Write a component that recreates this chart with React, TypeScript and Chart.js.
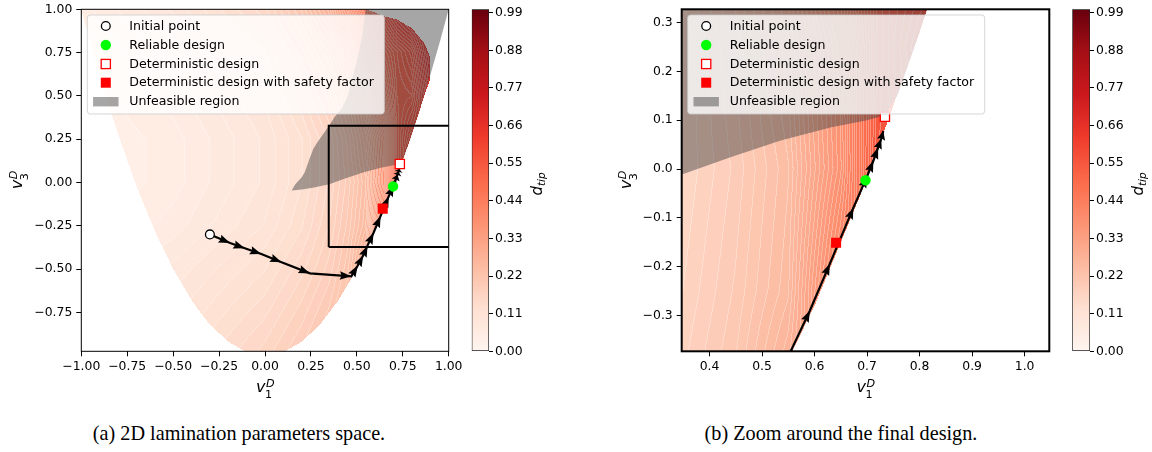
import React, { useEffect, useRef } from "react";
import { Chart, registerables } from "chart.js";
Chart.register(...registerables);

// ---------------- data ----------------
// d_tip field sampled on a coarse grid: rows = v3^D values, columns = v1^D values
const GRID_V1 = [-1, -0.5, 0, 0.2, 0.35, 0.45, 0.55, 0.65, 0.72, 0.8, 0.9, 1.0];
const GRID_V3 = [-1, -0.5, -0.25, 0, 0.25, 0.5, 0.75, 1];
const GRID_DTIP = [
  [0.07, 0.11, 0.16, 0.19, 0.22, 0.255, 0.30, 0.37, 0.43, 0.50, 0.60, 0.70],
  [0.04, 0.08, 0.12, 0.15, 0.18, 0.215, 0.29, 0.36, 0.42, 0.50, 0.58, 0.66],
  [0.035, 0.06, 0.10, 0.13, 0.165, 0.20, 0.25, 0.427, 0.48, 0.52, 0.58, 0.66],
  [0.03, 0.05, 0.09, 0.12, 0.155, 0.19, 0.24, 0.37, 0.55, 0.58, 0.65, 0.70],
  [0.03, 0.05, 0.09, 0.12, 0.155, 0.20, 0.26, 0.38, 0.54, 0.62, 0.66, 0.70],
  [0.035, 0.06, 0.10, 0.14, 0.18, 0.23, 0.30, 0.46, 0.55, 0.56, 0.68, 0.70],
  [0.04, 0.07, 0.12, 0.17, 0.22, 0.28, 0.42, 0.52, 0.56, 0.60, 0.72, 0.72],
  [0.05, 0.09, 0.15, 0.21, 0.28, 0.37, 0.50, 0.62, 0.68, 0.72, 0.72, 0.72],
];

// outline of the coloured (feasible lamination parameter) domain
const DOMAIN_V1 = [-1, -0.95, -0.9, -0.85, -0.8, -0.7, -0.6, -0.5, -0.4, -0.35, -0.3, -0.2, -0.1, 0, 0.1, 0.2, 0.3, 0.4, 0.5, 0.6, 0.7, 0.8, 0.87, 0.9, 0.9, 0.87, 0.8, 0.72, 0.65, 0.55, -1];
const DOMAIN_V3 = [1, 0.805, 0.62, 0.445, 0.28, -0.02, -0.28, -0.5, -0.68, -0.755, -0.82, -0.92, -0.98, -1, -0.98, -0.92, -0.82, -0.68, -0.5, -0.28, -0.02, 0.28, 0.51, 0.6, 0.72, 0.8, 0.89, 0.94, 0.96, 1.0, 1.0];

// outline of the unfeasible region
const UNFEAS_V1 = [0.145, 0.2, 0.26, 0.35, 0.44, 0.534, 0.63, 0.70, 0.735, 0.76, 0.79, 0.82, 0.866, 0.9, 0.95, 1.0, 1.0, 0.55, 0.53, 0.5, 0.45, 0.42, 0.38, 0.35, 0.317, 0.29, 0.263, 0.24, 0.217, 0.2, 0.165, 0.145];
const UNFEAS_V3 = [-0.046, -0.04, -0.03, -0.01, 0.024, 0.058, 0.085, 0.1, 0.11, 0.155, 0.248, 0.345, 0.5, 0.62, 0.805, 1.0, 1.02, 1.02, 0.85, 0.7, 0.5, 0.43, 0.38, 0.33, 0.28, 0.24, 0.195, 0.13, 0.06, 0.03, -0.01, -0.046];

// optimisation path (quiver steps)
const PATH_V1 = [-0.30, -0.19, -0.11, -0.02, 0.09, 0.245, 0.47, 0.505, 0.535, 0.558, 0.591, 0.629, 0.674, 0.70, 0.712, 0.721, 0.727, 0.731];
const PATH_V3 = [-0.30, -0.35, -0.38, -0.413, -0.461, -0.525, -0.542, -0.48, -0.42, -0.365, -0.29, -0.194, -0.079, -0.015, 0.017, 0.044, 0.062, 0.078];

const INITIAL_POINT = [-0.3, -0.3];
const RELIABLE_DESIGN = [0.697, -0.023];
const DETERMINISTIC_DESIGN = [0.734, 0.107];
const SAFETY_DESIGN = [0.641, -0.151];

// zoom window (panel b limits, rectangle in panel a)
const ZOOM_V1 = [0.347, 1.047];
const ZOOM_V3 = [-0.373, 0.327];

const LEGEND_LABELS = [
  "Initial point",
  "Reliable design",
  "Deterministic design",
  "Deterministic design with safety factor",
  "Unfeasible region",
];

const X_TICKS_A = [-1, -0.75, -0.5, -0.25, 0, 0.25, 0.5, 0.75, 1];
const Y_TICKS_A = [-0.75, -0.5, -0.25, 0, 0.25, 0.5, 0.75, 1];
const X_TICKS_B = [0.4, 0.5, 0.6, 0.7, 0.8, 0.9, 1.0];
const Y_TICKS_B = [-0.3, -0.2, -0.1, 0, 0.1, 0.2, 0.3];
const CB_TICKS = [0, 0.11, 0.22, 0.33, 0.44, 0.55, 0.66, 0.77, 0.88, 0.99];
const CB_RANGE = [0, 1.0];
const CONTOUR_STEP = 0.011;
const REDS = ["#fff5f0", "#fee0d2", "#fcbba1", "#fc9272", "#fb6a4a", "#ef3b2c", "#cb181d", "#a50f15", "#67000d"];
const CAPTIONS = ["(a) 2D lamination parameters space.", "(b) Zoom around the final design."];

// ---------------- styling ----------------
const FONT = '"DejaVu Sans"';
const TICK_FONT = { family: FONT, size: 12.4 };
const GRAY_FILL = "rgba(65,65,65,0.47)";

// ---------------- helpers ----------------
const fmt = (v: number, d: number) => (v < -1e-9 ? "\u2212" : "") + Math.abs(v).toFixed(d);
const pts = (xs: number[], ys: number[]) => xs.map((x, i) => ({ x, y: ys[i] }));
const hexToRgb = (h: string) => [parseInt(h.slice(1, 3), 16), parseInt(h.slice(3, 5), 16), parseInt(h.slice(5, 7), 16)];
const REDS_RGB = REDS.map(hexToRgb);
function redsAt(t: number) {
  t = Math.min(1, Math.max(0, t));
  const p = t * (REDS_RGB.length - 1);
  const i = Math.min(REDS_RGB.length - 2, Math.floor(p));
  const f = p - i;
  const a = REDS_RGB[i], b = REDS_RGB[i + 1];
  return [a[0] + (b[0] - a[0]) * f, a[1] + (b[1] - a[1]) * f, a[2] + (b[2] - a[2]) * f];
}
function segIndex(arr: number[], v: number) {
  for (let i = 0; i < arr.length - 2; i++) if (v <= arr[i + 1]) return i;
  return arr.length - 2;
}
function fieldValue(v1: number, v3: number) {
  const i = segIndex(GRID_V1, v1), j = segIndex(GRID_V3, v3);
  const tx = Math.min(1, Math.max(0, (v1 - GRID_V1[i]) / (GRID_V1[i + 1] - GRID_V1[i])));
  const ty = Math.min(1, Math.max(0, (v3 - GRID_V3[j]) / (GRID_V3[j + 1] - GRID_V3[j])));
  const a = GRID_DTIP[j][i], b = GRID_DTIP[j][i + 1], c = GRID_DTIP[j + 1][i], d = GRID_DTIP[j + 1][i + 1];
  return (a * (1 - tx) + b * tx) * (1 - ty) + (c * (1 - tx) + d * tx) * ty;
}
function inside(px: number, py: number, xs: number[], ys: number[]) {
  let c = false;
  for (let i = 0, j = xs.length - 1; i < xs.length; j = i++) {
    if ((ys[i] > py) !== (ys[j] > py) && px < ((xs[j] - xs[i]) * (py - ys[i])) / (ys[j] - ys[i]) + xs[i]) c = !c;
  }
  return c;
}

function drawMath(ctx: CanvasRenderingContext2D, x: number, y: number, base: string, sub: string, sup: string, size: number, rotate: boolean) {
  ctx.save();
  ctx.translate(x, y);
  if (rotate) ctx.rotate(-Math.PI / 2);
  const ss = size * 0.7;
  const fBase = `italic ${size}px ${FONT}`;
  const fSub = /^\d+$/.test(sub) ? `${ss}px ${FONT}` : `italic ${ss}px ${FONT}`;
  const fSup = `italic ${ss}px ${FONT}`;
  ctx.font = fBase;
  const bw = ctx.measureText(base).width;
  ctx.font = fSub;
  const sw = sub ? ctx.measureText(sub).width : 0;
  ctx.font = fSup;
  const pw = sup ? ctx.measureText(sup).width : 0;
  const total = bw + Math.max(sw, pw);
  const x0 = -total / 2;
  ctx.fillStyle = "#000";
  ctx.textAlign = "left";
  ctx.textBaseline = "alphabetic";
  ctx.font = fBase;
  ctx.fillText(base, x0, 0);
  if (sup) {
    ctx.font = fSup;
    ctx.fillText(sup, x0 + bw + 0.5, -size * 0.33);
  }
  if (sub) {
    ctx.font = fSub;
    ctx.fillText(sub, x0 + bw - (sup ? 0.5 : 0), sup ? size * 0.37 : size * 0.22);
  }
  ctx.restore();
}

// ---------------- plugins ----------------
const fieldPlugin = {
  id: "dtipField",
  beforeDatasetsDraw(chart: any) {
    const { ctx, chartArea: ca, scales } = chart;
    const xs = scales.x, ys = scales.y;
    const L = Math.round(ca.left), T = Math.round(ca.top);
    const W = Math.round(ca.right) - L, H = Math.round(ca.bottom) - T;
    const off = document.createElement("canvas");
    off.width = W;
    off.height = H;
    const octx = off.getContext("2d")!;
    const img = octx.createImageData(W, H);
    const lv = new Int32Array(W * H).fill(-1);
    const colV = new Float64Array(W);
    const rowV = new Float64Array(H);
    for (let i = 0; i < W; i++) colV[i] = xs.getValueForPixel(L + i + 0.5);
    for (let j = 0; j < H; j++) rowV[j] = ys.getValueForPixel(T + j + 0.5);
    for (let j = 0; j < H; j++) {
      for (let i = 0; i < W; i++) {
        const v1 = colV[i], v3 = rowV[j];
        if (!inside(v1, v3, DOMAIN_V1, DOMAIN_V3)) continue;
        lv[j * W + i] = Math.max(0, Math.floor(fieldValue(v1, v3) / CONTOUR_STEP));
      }
    }
    const span = CB_RANGE[1] - CB_RANGE[0];
    for (let j = 0; j < H; j++) {
      for (let i = 0; i < W; i++) {
        const k = j * W + i;
        const l = lv[k];
        if (l < 0) continue;
        const mid = (l + 0.5) * CONTOUR_STEP;
        let [r, g, b] = redsAt((mid - CB_RANGE[0]) / span);
        const seam =
          (i + 1 < W && lv[k + 1] >= 0 && lv[k + 1] !== l) || (j + 1 < H && lv[k + W] >= 0 && lv[k + W] !== l);
        if (seam) {
          const s = 0.28;
          r = r + (255 - r) * s;
          g = g + (255 - g) * s;
          b = b + (255 - b) * s;
        }
        img.data[k * 4] = r;
        img.data[k * 4 + 1] = g;
        img.data[k * 4 + 2] = b;
        img.data[k * 4 + 3] = 255;
      }
    }
    octx.putImageData(img, 0, 0);
    ctx.drawImage(off, L, T);
  },
};

const arrowPlugin = {
  id: "quiverHeads",
  afterDatasetDraw(chart: any, args: any) {
    const ds = chart.data.datasets[args.index];
    if (ds.label !== "path") return;
    const { ctx, chartArea: ca } = chart;
    const p = args.meta.data;
    ctx.save();
    ctx.beginPath();
    ctx.rect(ca.left, ca.top, ca.right - ca.left, ca.bottom - ca.top);
    ctx.clip();
    ctx.fillStyle = "#000";
    for (let i = 1; i < p.length; i++) {
      const dx = p[i].x - p[i - 1].x, dy = p[i].y - p[i - 1].y;
      const len = Math.hypot(dx, dy) || 1;
      const ux = dx / len, uy = dy / len;
      const nx = -uy, ny = ux;
      const hl = Math.min(11.5, len * 1.1), hw = 4.2, notch = hl * 0.85;
      ctx.beginPath();
      ctx.moveTo(p[i].x, p[i].y);
      ctx.lineTo(p[i].x - ux * hl + nx * hw, p[i].y - uy * hl + ny * hw);
      ctx.lineTo(p[i].x - ux * notch, p[i].y - uy * notch);
      ctx.lineTo(p[i].x - ux * hl - nx * hw, p[i].y - uy * hl - ny * hw);
      ctx.closePath();
      ctx.fill();
    }
    ctx.restore();
  },
};

function framePlugin(width: number) {
  return {
    id: "frame",
    afterDatasetsDraw(chart: any) {
      const { ctx, chartArea: ca } = chart;
      ctx.save();
      ctx.strokeStyle = "#000";
      ctx.lineWidth = width;
      ctx.strokeRect(ca.left, ca.top, ca.right - ca.left, ca.bottom - ca.top);
      ctx.restore();
    },
  };
}

const legendPlugin = {
  id: "boxLegend",
  afterDatasetsDraw(chart: any) {
    const { ctx, chartArea: ca } = chart;
    const bx = ca.left + 6, by = ca.top + 5.7, bw = 297, bh = 99;
    ctx.save();
    ctx.beginPath();
    (ctx as any).roundRect(bx, by, bw, bh, 3);
    ctx.fillStyle = "rgba(255,255,255,0.8)";
    ctx.fill();
    ctx.strokeStyle = "rgba(204,204,204,0.8)";
    ctx.lineWidth = 1;
    ctx.stroke();
    const mx = ca.left + 24.5, tx = ca.left + 48;
    const rows = [16.7, 35.7, 54.7, 73.4, 92.4].map((d) => ca.top + d);
    // initial point
    ctx.beginPath();
    ctx.arc(mx, rows[0], 4.4, 0, Math.PI * 2);
    ctx.fillStyle = "#fff";
    ctx.fill();
    ctx.strokeStyle = "#000";
    ctx.lineWidth = 1.3;
    ctx.stroke();
    // reliable
    ctx.beginPath();
    ctx.arc(mx, rows[1], 5.2, 0, Math.PI * 2);
    ctx.fillStyle = "#00ff00";
    ctx.fill();
    // deterministic
    ctx.fillStyle = "#fff";
    ctx.fillRect(mx - 4.6, rows[2] - 4.6, 9.2, 9.2);
    ctx.strokeStyle = "#ff0000";
    ctx.lineWidth = 1.3;
    ctx.strokeRect(mx - 4.6, rows[2] - 4.6, 9.2, 9.2);
    // safety
    ctx.fillStyle = "#ff0000";
    ctx.fillRect(mx - 5, rows[3] - 5, 10, 10);
    // unfeasible patch
    ctx.fillStyle = GRAY_FILL;
    ctx.fillRect(mx - 12.7, rows[4] - 4.7, 25.4, 9.4);
    ctx.fillStyle = "#000";
    ctx.font = `12.6px ${FONT}`;
    ctx.textAlign = "left";
    ctx.textBaseline = "middle";
    LEGEND_LABELS.forEach((t, i) => ctx.fillText(t, tx, rows[i] + 0.5));
    ctx.restore();
  },
};

function axisLabelPlugin(yOffset: number) {
  return {
    id: "axisLabels",
    afterDraw(chart: any) {
      const { ctx, chartArea: ca } = chart;
      const cx = (ca.left + ca.right) / 2, cy = (ca.top + ca.bottom) / 2;
      drawMath(ctx, cx, ca.bottom + 41, "v", "1", "D", 16, false);
      drawMath(ctx, ca.left - yOffset, cy, "v", "3", "D", 16, true);
    },
  };
}

const cbLabelPlugin = {
  id: "cbLabel",
  afterDraw(chart: any) {
    const { ctx, chartArea: ca } = chart;
    drawMath(ctx, ca.right + 53, 184, "d", "tip", "", 15, true);
  },
};

// ---------------- chart configs ----------------
type PanelOpts = {
  xr: number[];
  yr: number[];
  xTicks: number[];
  yTicks: number[];
  xDec: number;
  yDec: number;
  yAxisW: number;
  padRight: number;
  frameW: number;
  zoomBox: boolean;
  yLabelOffset: number;
};

function panelConfig(o: PanelOpts): any {
  const datasets: any[] = [
    {
      type: "line",
      label: "unfeasible",
      data: pts(UNFEAS_V1, UNFEAS_V3),
      fill: "shape",
      backgroundColor: GRAY_FILL,
      borderColor: "rgba(0,0,0,0)",
      borderWidth: 0,
      pointRadius: 0,
      tension: 0,
      order: 4,
    },
  ];
  if (o.zoomBox) {
    datasets.push({
      type: "line",
      label: "zoom",
      data: pts(
        [ZOOM_V1[0], ZOOM_V1[1], ZOOM_V1[1], ZOOM_V1[0], ZOOM_V1[0]],
        [ZOOM_V3[0], ZOOM_V3[0], ZOOM_V3[1], ZOOM_V3[1], ZOOM_V3[0]]
      ),
      fill: false,
      borderColor: "#000",
      borderWidth: 2,
      borderJoinStyle: "miter",
      pointRadius: 0,
      tension: 0,
      order: 3,
    });
  }
  datasets.push({
    type: "line",
    label: "path",
    data: pts(PATH_V1, PATH_V3),
    fill: false,
    borderColor: "#000",
    borderWidth: 2.2,
    pointRadius: 0,
    tension: 0,
    order: 2,
  });
  const marker = (label: string, p: number[], style: string, r: number, bg: string, bc: string, bw: number) => ({
    type: "scatter",
    label,
    data: [{ x: p[0], y: p[1] }],
    pointStyle: style,
    pointRadius: r,
    pointBackgroundColor: bg,
    pointBorderColor: bc,
    pointBorderWidth: bw,
    order: 1,
  });
  datasets.push(marker(LEGEND_LABELS[0], INITIAL_POINT, "circle", 4.4, "#fff", "#000", 1.3));
  datasets.push(marker(LEGEND_LABELS[2], DETERMINISTIC_DESIGN, "rect", 6.5, "#fff", "#ff0000", 1.3));
  datasets.push(marker(LEGEND_LABELS[3], SAFETY_DESIGN, "rect", 7.1, "#ff0000", "#ff0000", 0));
  datasets.push(marker(LEGEND_LABELS[1], RELIABLE_DESIGN, "circle", 5.2, "#00ff00", "#00ff00", 0));

  return {
    type: "scatter",
    data: { datasets },
    options: {
      responsive: false,
      animation: false,
      devicePixelRatio: 1,
      events: [],
      layout: { padding: { left: 0, top: 9.3, right: o.padRight, bottom: 0 } },
      plugins: { legend: { display: false }, tooltip: { enabled: false } },
      scales: {
        x: {
          type: "linear",
          min: o.xr[0],
          max: o.xr[1],
          afterBuildTicks: (s: any) => {
            s.ticks = o.xTicks.map((v) => ({ value: v }));
          },
          afterFit: (s: any) => {
            s.height = 48.7;
            s.paddingLeft = 0;
            s.paddingRight = 0;
          },
          ticks: {
            callback: (v: number) => fmt(v, o.xDec),
            font: TICK_FONT,
            color: "#000",
            maxRotation: 0,
            minRotation: 0,
            autoSkip: false,
            padding: 3,
          },
          grid: { drawOnChartArea: false, drawTicks: true, tickLength: 5, tickColor: "#000", tickWidth: 1 },
          border: { display: false },
        },
        y: {
          type: "linear",
          min: o.yr[0],
          max: o.yr[1],
          afterBuildTicks: (s: any) => {
            s.ticks = o.yTicks.map((v) => ({ value: v }));
          },
          afterFit: (s: any) => {
            s.width = o.yAxisW;
            s.paddingTop = 0;
            s.paddingBottom = 0;
          },
          ticks: {
            callback: (v: number) => fmt(v, o.yDec),
            font: TICK_FONT,
            color: "#000",
            autoSkip: false,
            padding: 4,
          },
          grid: { drawOnChartArea: false, drawTicks: true, tickLength: 5, tickColor: "#000", tickWidth: 1 },
          border: { display: false },
        },
      },
    },
    plugins: [fieldPlugin, arrowPlugin, framePlugin(o.frameW), legendPlugin, axisLabelPlugin(o.yLabelOffset)],
  };
}

function colorbarConfig(padLeft: number, axisW: number): any {
  return {
    type: "bar",
    data: {
      labels: ["d_tip"],
      datasets: [
        {
          data: [[CB_RANGE[0], CB_RANGE[1]]],
          backgroundColor: (c: any) => {
            const chart = c.chart;
            const ca = chart.chartArea;
            const y = chart.scales.y;
            if (!ca || !y) return REDS[4];
            const g = chart.ctx.createLinearGradient(0, y.getPixelForValue(CB_RANGE[0]), 0, y.getPixelForValue(CB_RANGE[1]));
            REDS.forEach((col, i) => g.addColorStop(i / (REDS.length - 1), col));
            return g;
          },
          borderColor: "#222",
          borderWidth: 1,
          borderSkipped: false,
          barPercentage: 1,
          categoryPercentage: 1,
        },
      ],
    },
    options: {
      responsive: false,
      animation: false,
      devicePixelRatio: 1,
      events: [],
      layout: { padding: { left: padLeft, top: 9.3, right: 0, bottom: 48.7 } },
      plugins: { legend: { display: false }, tooltip: { enabled: false } },
      scales: {
        x: { display: false },
        y: {
          type: "linear",
          position: "right",
          min: CB_RANGE[0],
          max: CB_RANGE[1],
          afterBuildTicks: (s: any) => {
            s.ticks = CB_TICKS.map((v) => ({ value: v }));
          },
          afterFit: (s: any) => {
            s.width = axisW;
            s.paddingTop = 0;
            s.paddingBottom = 0;
          },
          ticks: {
            callback: (v: number) => v.toFixed(2),
            font: TICK_FONT,
            color: "#000",
            autoSkip: false,
            padding: 2,
          },
          grid: { drawOnChartArea: false, drawTicks: true, tickLength: 4, tickColor: "#000", tickWidth: 1 },
          border: { display: false },
        },
      },
    },
    plugins: [cbLabelPlugin],
  };
}

// ---------------- component ----------------
export default function App() {
  const refA = useRef<HTMLCanvasElement>(null);
  const refCA = useRef<HTMLCanvasElement>(null);
  const refB = useRef<HTMLCanvasElement>(null);
  const refCB = useRef<HTMLCanvasElement>(null);

  useEffect(() => {
    const charts = [
      new Chart(
        refA.current!,
        panelConfig({
          xr: [-1, 1],
          yr: [-0.975, 1],
          xTicks: X_TICKS_A,
          yTicks: Y_TICKS_A,
          xDec: 2,
          yDec: 2,
          yAxisW: 81.3,
          padRight: 470 - 448.7,
          frameW: 1,
          zoomBox: true,
          yLabelOffset: 59.3,
        })
      ),
      new Chart(refCA.current!, colorbarConfig(11.7, 100 - 29)),
      new Chart(
        refB.current!,
        panelConfig({
          xr: ZOOM_V1,
          yr: ZOOM_V3,
          xTicks: X_TICKS_B,
          yTicks: Y_TICKS_B,
          xDec: 1,
          yDec: 1,
          yAxisW: 91.7,
          padRight: 470 - 459.3,
          frameW: 2,
          zoomBox: false,
          yLabelOffset: 50.7,
        })
      ),
      new Chart(refCB.current!, colorbarConfig(12.3, 92 - 30)),
    ];
    return () => charts.forEach((c) => c.destroy());
  }, []);

  const abs = (left: number, w: number, h: number): React.CSSProperties => ({
    position: "absolute",
    left,
    top: 0,
    width: w,
    height: h,
  });
  const caption = (cx: number): React.CSSProperties => ({
    position: "absolute",
    left: cx - 250,
    width: 500,
    top: 421.7,
    textAlign: "center",
    fontFamily: '"Liberation Serif", "Times New Roman", serif',
    fontSize: "21.5px",
    lineHeight: "22px",
    whiteSpace: "nowrap",
    transform: "scaleX(0.94)",
    color: "#000",
  });

  return (
    <div style={{ position: "absolute", left: 0, top: 0, width: 1152, height: 452, background: "#fff", overflow: "hidden" }}>
      <canvas ref={refA} width={470} height={400} style={abs(0, 470, 400)} />
      <canvas ref={refCA} width={100} height={400} style={abs(460, 100, 400)} />
      <canvas ref={refB} width={470} height={400} style={abs(590, 470, 400)} />
      <canvas ref={refCB} width={92} height={400} style={abs(1060, 92, 400)} />
      <div style={caption(239)}>{CAPTIONS[0]}</div>
      <div style={caption(841)}>{CAPTIONS[1]}</div>
    </div>
  );
}
